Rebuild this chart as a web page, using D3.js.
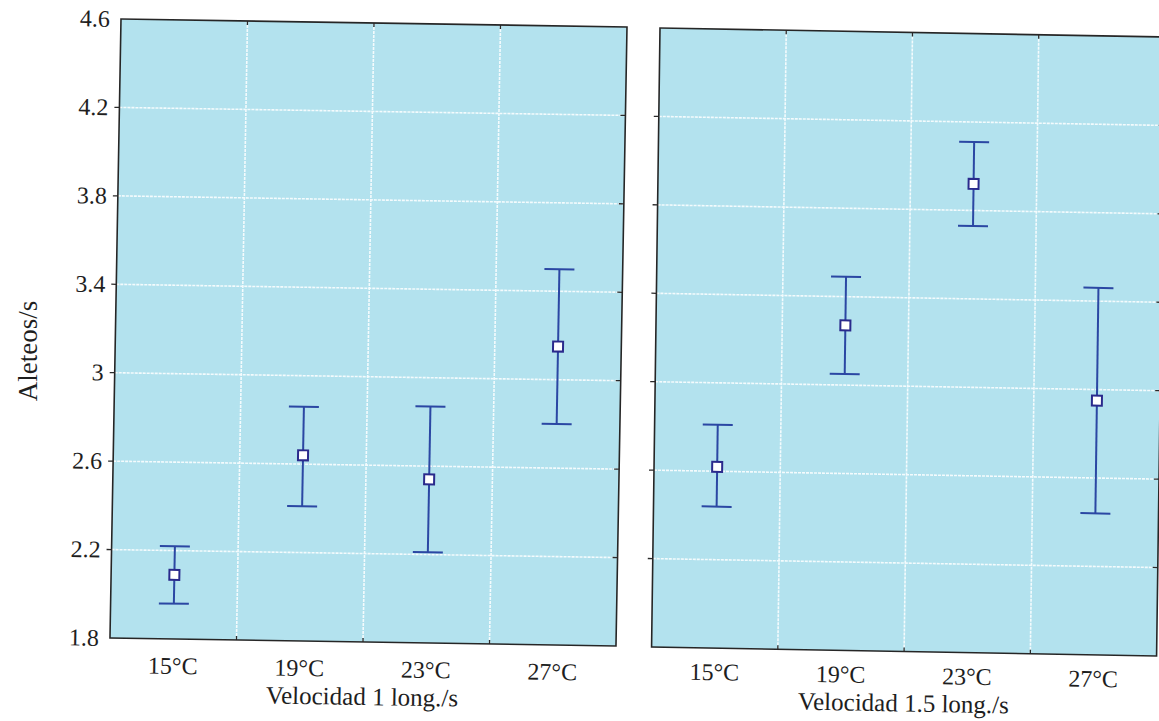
<!DOCTYPE html>
<html>
<head>
<meta charset="utf-8">
<script src="https://cdn.jsdelivr.net/npm/d3@7"></script>
<style>
  body { margin: 0; background: #fff; }
  text { font-family: "Liberation Serif", "DejaVu Serif", serif; fill: #1e1e1e; }
</style>
</head>
<body>
<script>
const categories = ["15°C", "19°C", "23°C", "27°C"];
const yTicks = [1.8, 2.2, 2.6, 3, 3.4, 3.8, 4.2, 4.6];

// panel 1: Velocidad 1 long./s
const means1 = [2.09, 2.64, 2.54, 3.15];
const upper1 = [2.22, 2.86, 2.87, 3.50];
const lower1 = [1.96, 2.41, 2.21, 2.80];

// panel 2: Velocidad 1.5 long./s
const means2 = [2.62, 3.27, 3.92, 2.95];
const upper2 = [2.81, 3.49, 4.11, 3.46];
const lower2 = [2.44, 3.05, 3.73, 2.44];

const titles = ["Velocidad 1 long./s", "Velocidad 1.5 long./s"];
const yTitle = "Aleteos/s";

const width = 1159;
const height = 721;

let svg = d3.select('body')
            .append('svg')
            .attr('width', width)
            .attr('height', height);

// the source is a scanned page, so each panel sits slightly skewed
const panels = [
    {x0: 121, y0: 19, w: 506, h: 619, b: 0.0158, c: -0.0178, labels: true, tickY: 35, titleY: 63,
     means: means1, upper: upper1, lower: lower1, title: titles[0]},
    {x0: 660, y0: 28, w: 505, h: 619, b: 0.0178, c: -0.0136, labels: false, tickY: 32, titleY: 60,
     means: means2, upper: upper2, lower: lower2, title: titles[1]}
];

const barColor = '#2b47a3';
const markColor = '#2a2a8c';

panels.forEach(p => drawPanel(p));

svg.append('text')
   .attr('transform', 'translate(37,351) rotate(-90)')
   .attr('text-anchor', 'middle')
   .attr('font-size', 27)
   .text(yTitle);

function drawPanel(p) {
    let g = svg.append('g')
               .attr('transform', `matrix(1,${p.b},${p.c},1,${p.x0},${p.y0})`);

    let x = d3.scaleBand().domain(categories).range([0, p.w]).padding(0);
    let y = d3.scaleLinear().domain([1.8, 4.6]).range([p.h, 0]);

    g.append('rect')
     .attr('width', p.w)
     .attr('height', p.h)
     .attr('fill', '#b3e2ee');

    // grid
    g.selectAll('line.hgrid')
     .data(yTicks.slice(1, -1))
     .enter()
     .append('line')
     .attr('class', 'hgrid')
     .attr('x1', 0).attr('x2', p.w)
     .attr('y1', d => y(d)).attr('y2', d => y(d))
     .attr('stroke', '#f4fbfd')
     .attr('stroke-width', 1.6)
     .attr('stroke-dasharray', '3,1');

    let bounds = categories.slice(1).map(c => x(c));
    g.selectAll('line.vgrid')
     .data(bounds)
     .enter()
     .append('line')
     .attr('class', 'vgrid')
     .attr('x1', d => d).attr('x2', d => d)
     .attr('y1', 0).attr('y2', p.h)
     .attr('stroke', '#f4fbfd')
     .attr('stroke-width', 1.6)
     .attr('stroke-dasharray', '3,1');

    // ticks
    let ticks = g.append('g').attr('stroke', '#2a2a2a').attr('stroke-width', 1.3);
    yTicks.slice(1, -1).forEach(t => {
        ticks.append('line').attr('x1', -5).attr('x2', 0).attr('y1', y(t)).attr('y2', y(t));
        ticks.append('line').attr('x1', p.w - 5).attr('x2', p.w).attr('y1', y(t)).attr('y2', y(t));
    });
    bounds.forEach(b => {
        ticks.append('line').attr('x1', b).attr('x2', b).attr('y1', 0).attr('y2', 4);
        ticks.append('line').attr('x1', b).attr('x2', b).attr('y1', p.h - 4).attr('y2', p.h);
    });

    g.append('rect')
     .attr('width', p.w)
     .attr('height', p.h)
     .attr('fill', 'none')
     .attr('stroke', '#262626')
     .attr('stroke-width', 1.6);

    // y tick labels (left panel only)
    if (p.labels) {
        g.selectAll('text.ytick')
         .data(yTicks)
         .enter()
         .append('text')
         .attr('class', 'ytick')
         .attr('x', -11)
         .attr('y', d => y(d) + 8)
         .attr('text-anchor', 'end')
         .attr('font-size', 24)
         .text(d => d3.format('.1~f')(d));
    }

    // x tick labels
    g.selectAll('text.xtick')
     .data(categories)
     .enter()
     .append('text')
     .attr('class', 'xtick')
     .attr('x', d => x(d) + x.bandwidth() / 2)
     .attr('y', p.h + p.tickY)
     .attr('text-anchor', 'middle')
     .attr('font-size', 24)
     .text(d => d);

    g.append('text')
     .attr('x', p.w / 2)
     .attr('y', p.h + p.titleY)
     .attr('text-anchor', 'middle')
     .attr('font-size', 25)
     .text(p.title);

    // error bars
    let cx = d => x(d) + x.bandwidth() / 2;
    let bars = g.append('g').attr('stroke', barColor).attr('stroke-width', 2);
    categories.forEach((c, i) => {
        bars.append('line')
            .attr('x1', cx(c)).attr('x2', cx(c))
            .attr('y1', y(p.upper[i])).attr('y2', y(p.lower[i]));
        bars.append('line')
            .attr('x1', cx(c) - 15).attr('x2', cx(c) + 15)
            .attr('y1', y(p.upper[i])).attr('y2', y(p.upper[i]));
        bars.append('line')
            .attr('x1', cx(c) - 15).attr('x2', cx(c) + 15)
            .attr('y1', y(p.lower[i])).attr('y2', y(p.lower[i]));
    });

    g.selectAll('rect.mean')
     .data(categories)
     .enter()
     .append('rect')
     .attr('class', 'mean')
     .attr('x', d => cx(d) - 5)
     .attr('y', (d, i) => y(p.means[i]) - 5)
     .attr('width', 10)
     .attr('height', 10)
     .attr('fill', '#fff')
     .attr('stroke', markColor)
     .attr('stroke-width', 2);
}
</script>
</body>
</html>
